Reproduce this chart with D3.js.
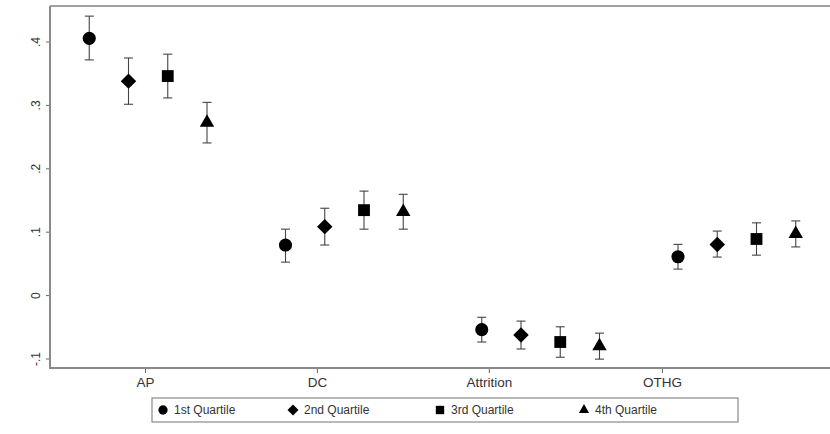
<!DOCTYPE html>
<html>
<head>
<meta charset="utf-8">
<script src="https://cdn.jsdelivr.net/npm/d3@7"></script>
<style>
  html, body { margin: 0; padding: 0; background: #fff; }
  svg { display: block; }
  text { font-family: "Liberation Sans", Arial, Helvetica, sans-serif; }
</style>
</head>
<body>
<div id="chart"></div>
<script>
// ---- data ----
const categories = ["AP", "DC", "Attrition", "OTHG"];
const series = ["1st Quartile", "2nd Quartile", "3rd Quartile", "4th Quartile"];
// point estimates, per category, per quartile
const estimates = [
  [0.405, 0.3375, 0.3455, 0.272],
  [0.079, 0.108, 0.134, 0.1315],
  [-0.0545, -0.063, -0.074, -0.0805],
  [0.0605, 0.080, 0.0885, 0.0965]
];
const lowerCI = [
  [0.371, 0.301, 0.311, 0.240],
  [0.052, 0.079, 0.104, 0.104],
  [-0.074, -0.085, -0.098, -0.101],
  [0.041, 0.060, 0.063, 0.076]
];
const upperCI = [
  [0.440, 0.374, 0.380, 0.304],
  [0.104, 0.137, 0.164, 0.159],
  [-0.035, -0.041, -0.050, -0.060],
  [0.080, 0.101, 0.114, 0.117]
];
const yTickValues = [-0.1, 0, 0.1, 0.2, 0.3, 0.4];
const yTickLabels = ["-.1", "0", ".1", ".2", ".3", ".4"];
// x positions (numeric axis) of the points and of the category ticks
const pointX = [[1, 2, 3, 4], [6, 7, 8, 9], [11, 12, 13, 14], [16, 17, 18, 19]];
const categoryTickX = [2.42, 6.8, 11.18, 15.59];

// ---- layout ----
const W = 830, H = 434;
const plot = { left: 50, right: 835, top: 6, bottom: 368 };
const svg = d3.select("#chart").append("svg").attr("width", W).attr("height", H);

const x = d3.scaleLinear().domain([0, 20]).range([plot.left, plot.right]);
const y = d3.scaleLinear().domain([-0.1, 0.4]).range([358.5, 41.5]);

const axisColor = "#8a8a8a";
const textColor = "#333";

// top frame line
svg.append("line")
  .attr("x1", plot.left).attr("x2", W).attr("y1", plot.top).attr("y2", plot.top)
  .attr("stroke", "#a0a0a0").attr("stroke-width", 2);

// y axis
const yAxis = d3.axisLeft(y).tickValues(yTickValues).tickSize(4)
  .tickFormat((d, i) => yTickLabels[i]);
const gy = svg.append("g").attr("transform", `translate(${plot.left},0)`).call(yAxis);
gy.select(".domain").remove();
gy.selectAll(".tick line").attr("stroke", "#666");
gy.selectAll(".tick text")
  .attr("fill", textColor).attr("font-size", 12)
  .attr("x", 0).attr("dy", 0)
  .attr("text-anchor", "middle")
  .attr("transform", "translate(-10,0) rotate(-90)");
svg.append("line")
  .attr("x1", plot.left).attr("x2", plot.left).attr("y1", plot.top).attr("y2", plot.bottom + 1)
  .attr("stroke", axisColor).attr("stroke-width", 2);

// x axis
const xAxis = d3.axisBottom(x).tickValues(categoryTickX).tickSize(5)
  .tickFormat((d, i) => categories[i]);
const gx = svg.append("g").attr("transform", `translate(0,${plot.bottom})`).call(xAxis);
gx.select(".domain").remove();
gx.selectAll(".tick line").attr("stroke", "#666");
gx.selectAll(".tick text").attr("fill", textColor).attr("font-size", 13.5).attr("dy", "0.85em");
svg.append("line")
  .attr("x1", plot.left - 1).attr("x2", W).attr("y1", plot.bottom).attr("y2", plot.bottom)
  .attr("stroke", axisColor).attr("stroke-width", 2);

// flatten data
const pts = [];
categories.forEach((c, ci) => series.forEach((s, si) => {
  pts.push({ ci, si, x: pointX[ci][si], v: estimates[ci][si], lo: lowerCI[ci][si], hi: upperCI[ci][si] });
}));

// marker shapes: circle, diamond (rotated square), square, triangle
const shapes = [d3.symbolCircle, d3.symbolSquare, d3.symbolSquare, d3.symbolTriangle];
const rotations = [0, 45, 0, 0];
const sizes = [135, 120, 140, 90];
function markerTransform(cx, cy, i) {
  return `translate(${cx},${cy}) rotate(${rotations[i]})`;
}

// error bars
const eb = svg.append("g").attr("stroke", "#444").attr("stroke-width", 1.1);
pts.forEach(p => {
  const cx = x(p.x);
  eb.append("line").attr("x1", cx).attr("x2", cx).attr("y1", y(p.hi)).attr("y2", y(p.lo));
  eb.append("line").attr("x1", cx - 4.5).attr("x2", cx + 4.5).attr("y1", y(p.hi)).attr("y2", y(p.hi));
  eb.append("line").attr("x1", cx - 4.5).attr("x2", cx + 4.5).attr("y1", y(p.lo)).attr("y2", y(p.lo));
});

// markers
svg.append("g").selectAll("path").data(pts).join("path")
  .attr("d", d => d3.symbol().type(shapes[d.si]).size(sizes[d.si])())
  .attr("transform", d => markerTransform(x(d.x), y(d.v), d.si))
  .attr("fill", "#000");

// legend
const legend = { left: 152, right: 738, top: 398, bottom: 422 };
svg.append("rect")
  .attr("x", legend.left).attr("y", legend.top)
  .attr("width", legend.right - legend.left).attr("height", legend.bottom - legend.top)
  .attr("fill", "#fff").attr("stroke", "#8a8a8a").attr("stroke-width", 1.2);
const legendX = [163, 293, 440, 584];
const ly = (legend.top + legend.bottom) / 2;
series.forEach((s, i) => {
  svg.append("path")
    .attr("d", d3.symbol().type(shapes[i]).size(sizes[i] * 0.5)())
    .attr("transform", markerTransform(legendX[i], ly, i))
    .attr("fill", "#000");
  svg.append("text")
    .attr("x", legendX[i] + 11).attr("y", ly).attr("dy", "0.35em")
    .attr("font-size", 12).attr("fill", textColor)
    .text(s);
});
</script>
</body>
</html>
